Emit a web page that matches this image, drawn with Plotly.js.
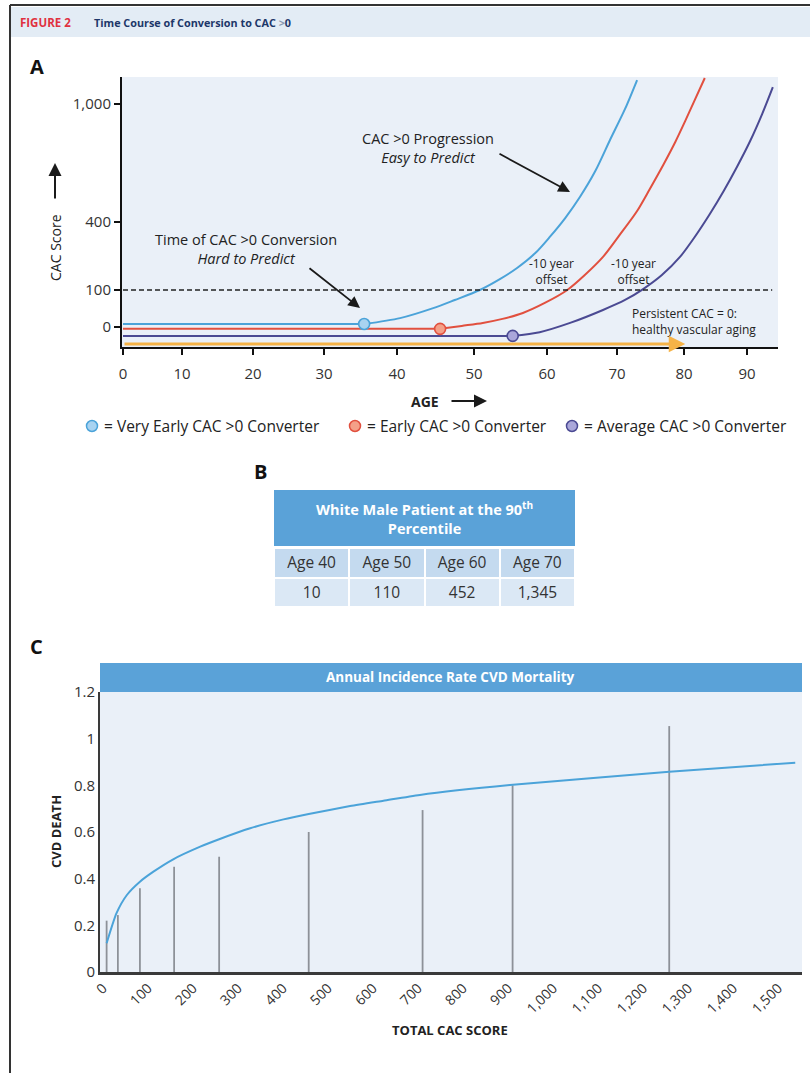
<!DOCTYPE html>
<html><head><meta charset="utf-8">
<script src="https://cdn.plot.ly/plotly-3.0.1.min.js"></script>
<style>html,body{margin:0;padding:0;background:#fff;}#chart{width:810px;height:1073px;}</style>
</head><body><div id="chart"></div>
<script>
// ---------------- Panel A data ----------------
const ageTicks = [0, 10, 20, 30, 40, 50, 60, 70, 80, 90];
const cacTicks = [0, 100, 400, 1000];
const cacTickText = ['0', '100', '400', '1,000'];
const thresholdCAC = 100;

const veryEarlyBaseline = 8;
const veryEarlyAge = [35.5, 40.4, 44.7, 47.5, 50.8, 53.6, 55.9, 58.4, 60.4, 62.6, 64.7, 66.9, 69.0, 71.2, 73.0];
const veryEarlyCAC = [8, 24, 51, 73, 100, 149, 197, 263, 334, 420, 527, 659, 817, 975, 1122];

const earlyBaseline = -5;
const earlyAge = [45.6, 48.4, 51.2, 53.9, 56.7, 59.7, 62.9, 65.4, 68.0, 70.4, 73.0, 74.9, 76.9, 78.7, 80.2, 81.7, 83.3];
const earlyCAC = [-5, 3, 11, 22, 38, 65, 100, 166, 246, 343, 456, 568, 690, 807, 914, 1020, 1132];

const averageBaseline = -24;
const averageAge = [55.3, 59.0, 63.3, 68.0, 71.2, 73.9, 76.7, 79.4, 81.7, 84.1, 86.3, 88.4, 90.5, 92.4, 94.1];
const averageCAC = [-24, -14, 11, 46, 73, 104, 166, 246, 334, 441, 558, 680, 812, 949, 1086];

const persistentZeroCAC = -46;
const persistentZeroEndAge = 80.2;
const dashedEndAge = 94;

// ---------------- Panel B data ----------------
const tableAges = ['Age 40', 'Age 50', 'Age 60', 'Age 70'];
const tableCAC = [10, 110, 452, 1345];

// ---------------- Panel C data ----------------
const barScore = [8, 33, 82, 158, 258, 457, 710, 910, 1258];
const barDeath = [0.22, 0.244, 0.359, 0.451, 0.494, 0.60, 0.694, 0.80, 1.054];
const curveScore = [8, 30, 53, 82, 112, 156, 216, 258, 327, 401, 457, 549, 623, 704, 904, 1258, 1538];
const curveDeath = [0.123, 0.252, 0.330, 0.387, 0.430, 0.483, 0.537, 0.569, 0.616, 0.654, 0.677, 0.711, 0.734, 0.759, 0.801, 0.858, 0.897];
const cTickVals = [0, 100, 200, 300, 400, 500, 600, 700, 800, 900, 1000, 1100, 1200, 1300, 1400, 1500];
const deathTicks = [0, 0.2, 0.4, 0.6, 0.8, 1, 1.2];
const deathTickText = ['0', '0.2', '0.4', '0.6', '0.8', '1', '1.2'];

// ---------------- axis warps (reference axes are hand drawn, non-uniform) ----------------
const ageWarpPos = [1, 60, 131, 202, 275, 352, 425, 495, 562, 625];
const cacWarpPos = [0, 37, 105, 223];
function warp(v, T, P) {
  const n = T.length;
  if (v <= T[0]) return P[0] + (v - T[0]) * (P[1] - P[0]) / (T[1] - T[0]);
  for (let i = 0; i < n - 1; i++) {
    if (v <= T[i + 1]) return P[i] + (v - T[i]) * (P[i + 1] - P[i]) / (T[i + 1] - T[i]);
  }
  return P[n - 1] + (v - T[n - 1]) * (P[n - 1] - P[n - 2]) / (T[n - 1] - T[n - 2]);
}
const ageX = a => warp(a, ageTicks, ageWarpPos);
const cacY = v => warp(v, cacTicks, cacWarpPos);

// ---------------- helpers ----------------
const W = 810, H = 1073;
const PX = p => p / W;
const PY = p => 1 - p / H;
const FONT = 'Open Sans, Noto Sans, sans-serif';
const TXT = '#222';

const cBlue = '#4ba3d9', cBlueFill = '#a8d3f1';
const cRed = '#e1503f', cRedFill = '#f4a088';
const cPurple = '#4b4a93', cPurpleFill = '#aaa7da';
const cOrange = '#f6b347';

function flatTrace(base, endAge, color) {
  return {type: 'scatter', mode: 'lines', x: [ageX(0), ageX(endAge)], y: [cacY(base), cacY(base)],
    line: {color: color, width: 2}, xaxis: 'x', yaxis: 'y', hoverinfo: 'skip'};
}
function riseTrace(ages, cacs, color) {
  return {type: 'scatter', mode: 'lines', x: ages.map(ageX), y: cacs.map(cacY),
    line: {color: color, width: 2, shape: 'spline', smoothing: 0.8}, xaxis: 'x', yaxis: 'y', hoverinfo: 'skip'};
}
function markTrace(age, cac, color, fill) {
  return {type: 'scatter', mode: 'markers', x: [ageX(age)], y: [cacY(cac)],
    marker: {size: 11, color: fill, line: {color: color, width: 1.6}}, xaxis: 'x', yaxis: 'y', hoverinfo: 'skip'};
}

const traces = [
  flatTrace(veryEarlyBaseline, veryEarlyAge[0], cBlue),
  flatTrace(earlyBaseline, earlyAge[0], cRed),
  flatTrace(averageBaseline, averageAge[0], cPurple),
  riseTrace(veryEarlyAge, veryEarlyCAC, cBlue),
  riseTrace(earlyAge, earlyCAC, cRed),
  riseTrace(averageAge, averageCAC, cPurple),
  markTrace(veryEarlyAge[0], veryEarlyCAC[0], cBlue, cBlueFill),
  markTrace(earlyAge[0], earlyCAC[0], cRed, cRedFill),
  markTrace(averageAge[0], averageCAC[0], cPurple, cPurpleFill),
  // Panel C
  {type: 'bar', x: barScore, y: barDeath, width: 4, marker: {color: '#8d9198'}, xaxis: 'x2', yaxis: 'y2', hoverinfo: 'skip'},
  {type: 'scatter', mode: 'lines', x: curveScore, y: curveDeath, line: {color: cBlue, width: 2, shape: 'spline', smoothing: 0.6},
    xaxis: 'x2', yaxis: 'y2', hoverinfo: 'skip'},
  // Panel B table
  {type: 'table', domain: {x: [PX(274), PX(575)], y: [PY(610), PY(548)]},
    columnwidth: [1, 1, 1, 1],
    header: {values: tableAges, fill: {color: '#c4daef'}, line: {color: '#ffffff', width: 2},
      font: {family: FONT, size: 15.5, color: '#333'}, height: 30, align: 'center'},
    cells: {values: tableCAC.map(v => [v.toLocaleString('en-US')]), fill: {color: '#dbe8f5'},
      line: {color: '#ffffff', width: 2}, font: {family: FONT, size: 15.5, color: '#333'}, height: 29, align: 'center'}}
];

function ann(text, x, y, o) {
  return Object.assign({text: text, x: PX(x), y: PY(y), xref: 'paper', yref: 'paper', showarrow: false,
    xanchor: 'center', yanchor: 'middle', font: {family: FONT, size: 15, color: TXT}}, o || {});
}
function arrowAnn(hx, hy, tx, ty, o) {
  return Object.assign({text: '', x: PX(hx), y: PY(hy), xref: 'paper', yref: 'paper', showarrow: true,
    ax: tx - hx, ay: ty - hy, arrowhead: 2, arrowsize: 1.3, arrowwidth: 1.8, arrowcolor: '#1a1a1a', standoff: 0}, o || {});
}

const annotations = [
  // header
  ann('<b>FIGURE 2</b>', 18, 22, {xanchor: 'left', font: {family: FONT, size: 11.5, color: '#e0313f'}}),
  ann('<b>Time Course of Conversion to CAC <span style="color:#8b9ab3">&gt;</span>0</b>', 92, 22,
    {xanchor: 'left', font: {family: FONT, size: 10.8, color: '#1d3769'}}),
  // panel labels
  ann('<b>A</b>', 37, 66, {font: {family: FONT, size: 20, color: '#111'}}),
  ann('<b>B</b>', 260, 472, {font: {family: FONT, size: 20, color: '#111'}}),
  ann('<b>C</b>', 36, 646, {font: {family: FONT, size: 20, color: '#111'}}),
  // panel A
  ann('CAC Score', 55, 248, {textangle: -90, font: {family: FONT, size: 14, color: TXT}}),
  arrowAnn(55, 163, 55, 200, {arrowwidth: 2}),
  ann('<b>AGE</b>', 425, 401, {font: {family: FONT, size: 14, color: TXT}}),
  arrowAnn(487, 401, 450, 401, {arrowwidth: 2}),
  ann('CAC >0 Progression<br><i>Easy to Predict</i>', 428, 148, {font: {family: FONT, size: 14.5, color: TXT}}),
  arrowAnn(570, 192, 498, 153),
  ann('Time of CAC >0 Conversion<br><i>Hard to Predict</i>', 246, 249, {font: {family: FONT, size: 14.5, color: TXT}}),
  arrowAnn(360, 308, 308, 267),
  ann('-10 year<br>offset', 551, 271, {font: {family: FONT, size: 12, color: TXT}}),
  ann('-10 year<br>offset', 633, 271, {font: {family: FONT, size: 12, color: TXT}}),
  ann('Persistent CAC = 0:<br>healthy vascular aging', 630, 322, {xanchor: 'left', align: 'left', font: {family: FONT, size: 12, color: TXT}}),
  // orange persistent-zero arrow (data coords)
  {text: '', x: ageX(persistentZeroEndAge), y: cacY(persistentZeroCAC), xref: 'x', yref: 'y',
    ax: ageX(0), ay: cacY(persistentZeroCAC), axref: 'x', ayref: 'y', showarrow: true,
    arrowhead: 2, arrowsize: 1.1, arrowwidth: 3, arrowcolor: cOrange, standoff: 0},
  // legend
  ann('= Very Early CAC >0 Converter', 102, 426, {xanchor: 'left', font: {family: FONT, size: 15.5, color: TXT}}),
  ann('= Early CAC >0 Converter', 365, 426, {xanchor: 'left', font: {family: FONT, size: 15.5, color: TXT}}),
  ann('= Average CAC >0 Converter', 582, 426, {xanchor: 'left', font: {family: FONT, size: 15.5, color: TXT}}),
  // panel B title
  ann('<b>White Male Patient at the 90<sup>th</sup><br>Percentile</b>', 424, 518, {font: {family: FONT, size: 14.5, color: '#ffffff'}}),
  // panel C
  ann('<b>Annual Incidence Rate CVD Mortality</b>', 450, 677, {font: {family: FONT, size: 13.5, color: '#ffffff'}}),
  ann('<b>CVD DEATH</b>', 56, 831, {textangle: -90, font: {family: FONT, size: 13, color: TXT}}),
  ann('<b>TOTAL CAC SCORE</b>', 450, 1030, {font: {family: FONT, size: 13, color: TXT}})
];

function circ(cx, cy, r, fill, line) {
  return {type: 'circle', xref: 'paper', yref: 'paper', x0: PX(cx - r), x1: PX(cx + r), y0: PY(cy + r), y1: PY(cy - r),
    fillcolor: fill, line: {color: line, width: 1.5}};
}
const shapes = [
  {type: 'line', xref: 'paper', yref: 'paper', x0: PX(10), x1: PX(10), y0: PY(5), y1: PY(1073), line: {color: '#333', width: 2}},
  {type: 'line', xref: 'paper', yref: 'paper', x0: PX(10), x1: PX(810), y0: PY(5), y1: PY(5), line: {color: '#333', width: 2}},
  {type: 'rect', xref: 'paper', yref: 'paper', x0: PX(11), x1: PX(810), y0: PY(37), y1: PY(7), fillcolor: '#e3ecf5', line: {width: 0}},
  {type: 'line', xref: 'x', yref: 'y', x0: ageX(0), x1: ageX(dashedEndAge), y0: cacY(thresholdCAC), y1: cacY(thresholdCAC),
    line: {color: '#222', width: 1.5, dash: '5px,3px'}},
  circ(92, 426, 5.5, cBlueFill, cBlue),
  circ(355, 426, 5.5, cRedFill, cRed),
  circ(572, 426, 5.5, cPurpleFill, cPurple),
  {type: 'rect', xref: 'paper', yref: 'paper', x0: PX(274), x1: PX(575), y0: PY(546), y1: PY(490), fillcolor: '#5aa2d8', line: {width: 0}},
  {type: 'rect', xref: 'paper', yref: 'paper', x0: PX(100), x1: PX(802), y0: PY(692), y1: PY(663), fillcolor: '#5aa2d8', line: {width: 0}}
];

const layout = {
  width: W, height: H, margin: {l: 0, r: 0, t: 0, b: 0}, showlegend: false, hovermode: false,
  paper_bgcolor: '#ffffff', plot_bgcolor: '#eaf0f8', font: {family: FONT, color: TXT},
  xaxis: {domain: [PX(122), PX(778)], anchor: 'y', range: [0, 656], tickmode: 'array',
    tickvals: ageTicks.map(ageX), ticktext: ageTicks.map(String), showline: true, linecolor: '#111', linewidth: 2,
    ticks: 'outside', ticklen: 6, tickwidth: 1.5, tickcolor: '#111', showgrid: false, zeroline: false,
    tickfont: {family: FONT, size: 15, color: '#333'}, ticklabelstandoff: 6, fixedrange: true},
  yaxis: {domain: [PY(347), PY(77)], anchor: 'x', range: [-20, 250], tickmode: 'array',
    tickvals: cacTicks.map(cacY), ticktext: cacTickText, showline: true, linecolor: '#111', linewidth: 2,
    ticks: 'outside', ticklen: 6, tickwidth: 1.5, tickcolor: '#111', showgrid: false, zeroline: false,
    tickfont: {family: FONT, size: 15, color: '#333'}, fixedrange: true},
  xaxis2: {domain: [PX(100), PX(802)], anchor: 'y2', range: [-6.7, 1553], tickmode: 'array', tickvals: cTickVals,
    ticktext: cTickVals.map(v => v.toLocaleString('en-US')), tickangle: -45, showline: true, linecolor: '#3a3a3a', linewidth: 2.5,
    ticks: '', showgrid: false, zeroline: false, tickfont: {family: FONT, size: 14, color: '#333'}, fixedrange: true},
  yaxis2: {domain: [PY(972), PY(692)], anchor: 'x2', range: [0, 1.2], tickmode: 'array', tickvals: deathTicks,
    ticktext: deathTickText, showline: true, linecolor: '#3a3a3a', linewidth: 2, ticks: '', showgrid: false, zeroline: false,
    tickfont: {family: FONT, size: 15, color: '#333'}, fixedrange: true},
  shapes: shapes, annotations: annotations
};

Plotly.newPlot('chart', traces, layout, {staticPlot: true, displayModeBar: false});
</script></body></html>
